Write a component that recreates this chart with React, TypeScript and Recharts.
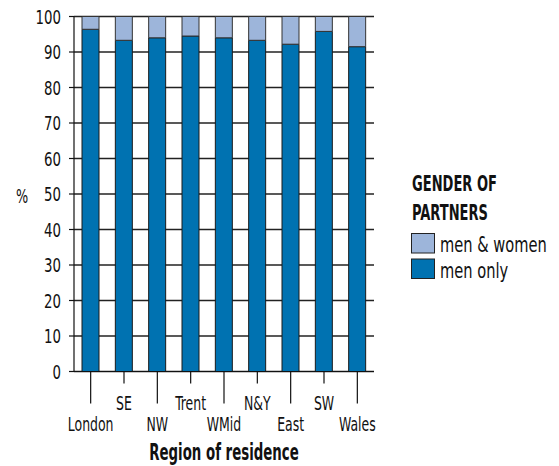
import React from 'react';
import { BarChart, Bar, XAxis, YAxis, CartesianGrid } from 'recharts';

const regions = ['London', 'SE', 'NW', 'Trent', 'WMid', 'N&Y', 'East', 'SW', 'Wales'];
const menOnly = [96.4, 93.3, 94.0, 94.5, 94.0, 93.3, 92.2, 95.8, 91.5];
const menAndWomen = menOnly.map((v) => +(100 - v).toFixed(1));
const yTicks = [0, 10, 20, 30, 40, 50, 60, 70, 80, 90, 100];
const legendTitle = ['GENDER OF', 'PARTNERS'];
const legendItems = ['men & women', 'men only'];

const data = regions.map((r, i) => ({ region: r, menOnly: menOnly[i], menAndWomen: menAndWomen[i] }));

const FONT = '"DejaVu Sans Condensed", "DejaVu Sans", sans-serif';
const DARK = '#0072b1';
const LIGHT = '#9db5da';
const INK = '#111';

const SText = ({ x, y, sx, size, bold, anchor, children }: any) => (
  <text
    transform={`translate(${x} ${y}) scale(${sx} 1)`}
    textAnchor={anchor || 'start'}
    fontSize={size}
    fontWeight={bold ? 'bold' : 'normal'}
    fontFamily={FONT}
    style={{ fontStretch: 'condensed' }}
    fill={INK}
  >
    {children}
  </text>
);

const XTick = (props: any) => {
  const { x, y, payload, index } = props;
  const low = index % 2 === 0;
  const len = low ? 32 : 12;
  return (
    <g>
      <line x1={x} x2={x} y1={y} y2={y + len} stroke={INK} strokeWidth={1.2} />
      <SText x={x} y={low ? y + 59.5 : y + 38.5} sx={0.73} size={19} anchor="middle">
        {payload.value}
      </SText>
    </g>
  );
};

const YTick = (props: any) => {
  const { x, y, payload } = props;
  return (
    <SText x={x} y={y + 7} sx={0.78} size={19} anchor="end">
      {payload.value}
    </SText>
  );
};

export default function App() {
  return (
    <div style={{ position: 'absolute', left: 0, top: 0, width: 559, height: 466 }}>
      <BarChart width={559} height={466} data={data} margin={{ top: 16.5, right: 185, bottom: 0, left: 0 }} barSize={17}>
        <CartesianGrid horizontal vertical={false} stroke="#222" strokeWidth={1.4} />
        <XAxis
          dataKey="region"
          axisLine={{ stroke: INK, strokeWidth: 1.2 }}
          tickLine={false}
          tickSize={0}
          tickMargin={0}
          interval={0}
          tick={<XTick />}
          height={94.5}
          label={{
            content: (p: any) => {
              const vb = p.viewBox || { x: 74, y: 371.5, width: 300 };
              return (
                <SText x={vb.x + vb.width / 2} y={vb.y + 88.5} sx={0.645} size={23} bold anchor="middle">
                  Region of residence
                </SText>
              );
            },
          }}
        />
        <YAxis
          width={74}
          domain={[0, 100]}
          ticks={yTicks}
          interval={0}
          axisLine={{ stroke: INK, strokeWidth: 1.2 }}
          tickLine={{ stroke: INK, strokeWidth: 1.2 }}
          tickSize={5}
          tickMargin={8}
          tick={<YTick />}
          label={{
            content: (p: any) => {
              const vb = p.viewBox || { x: 0, y: 16.5, width: 74, height: 355 };
              return (
                <SText x={vb.x + 22} y={vb.y + vb.height / 2 + 9} sx={0.75} size={19} anchor="middle">
                  %
                </SText>
              );
            },
          }}
        />
        <Bar dataKey="menOnly" stackId="a" fill={DARK} stroke="#1a1a1a" strokeWidth={1} isAnimationActive={false} />
        <Bar dataKey="menAndWomen" stackId="a" fill={LIGHT} stroke="#333" strokeWidth={1} isAnimationActive={false} />
      </BarChart>
      <svg width={559} height={466} style={{ position: 'absolute', left: 0, top: 0, pointerEvents: 'none' }}>
        {legendTitle.map((t, i) => (
          <SText key={t} x={412} y={191 + i * 29} sx={0.66} size={22} bold>
            {t}
          </SText>
        ))}
        {legendItems.map((t, i) => (
          <g key={t}>
            <rect x={411.5} y={233.5 + i * 25.5} width={23} height={19.5} fill={i === 0 ? LIGHT : DARK} stroke="#222" strokeWidth={1} />
            <SText x={440} y={252 + i * 26} sx={0.74} size={22}>
              {t}
            </SText>
          </g>
        ))}
      </svg>
    </div>
  );
}
